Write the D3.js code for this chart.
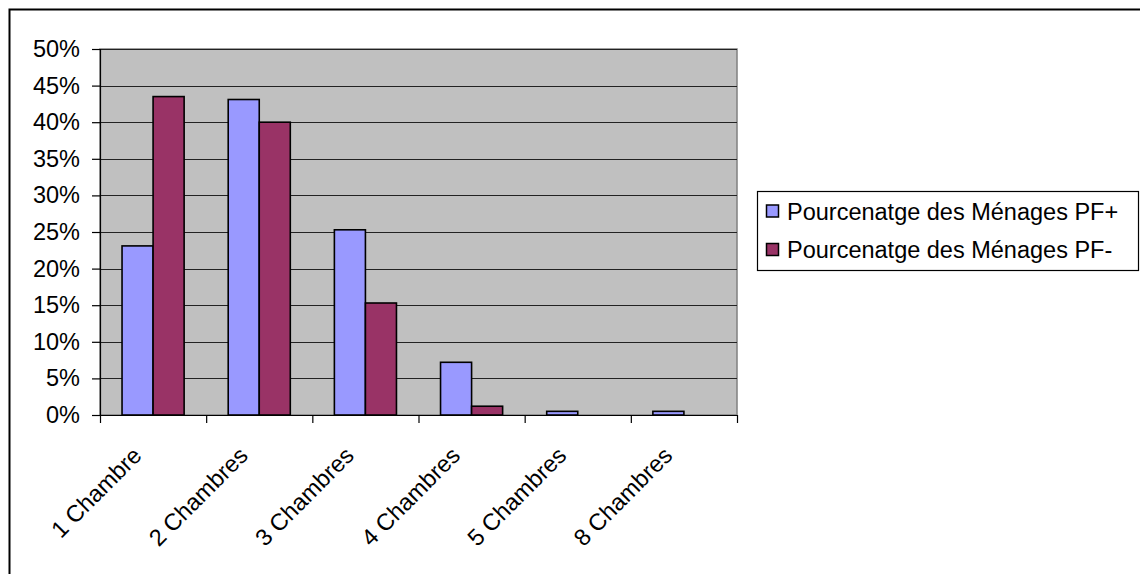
<!DOCTYPE html>
<html>
<head>
<meta charset="utf-8">
<script src="https://cdn.jsdelivr.net/npm/d3@7"></script>
<style>
  body { margin: 0; background: #fff; }
  text { font-family: "Liberation Sans", Arial, sans-serif; fill: #000; }
</style>
</head>
<body>
<div id="chart"></div>
<script>
var categories = ["1 Chambre", "2 Chambres", "3 Chambres", "4 Chambres", "5 Chambres", "8 Chambres"];
var seriesNames = ["Pourcenatge des Ménages PF+", "Pourcenatge des Ménages PF-"];
var pfPlus = [0.231, 0.431, 0.253, 0.072, 0.005, 0.005];
var pfMinus = [0.435, 0.400, 0.153, 0.012, 0, 0];
var yTicks = [0, 0.05, 0.10, 0.15, 0.20, 0.25, 0.30, 0.35, 0.40, 0.45, 0.50];
var colors = ["#9999FF", "#993366"];

var W = 1140, H = 574;
var plot = { left: 100, top: 49, right: 737, bottom: 415 };
var fontSize = 23.5;

var data = categories.map(function (c, i) {
    return { cat: c, values: [pfPlus[i], pfMinus[i]] };
});

var svg = d3.select("#chart").append("svg")
    .attr("width", W)
    .attr("height", H);

// outer frame (runs off the right and bottom edge)
svg.append("rect")
    .attr("x", 9.5).attr("y", 9.5)
    .attr("width", W + 20).attr("height", H + 20)
    .attr("fill", "none")
    .attr("stroke", "#000")
    .attr("stroke-width", 2);

var y = d3.scaleLinear()
    .domain([0, 0.5])
    .range([plot.bottom, plot.top]);

var x0 = d3.scaleBand()
    .domain(categories)
    .range([plot.left, plot.right]);

var x1 = d3.scaleBand()
    .domain(d3.range(seriesNames.length))
    .range([0, x0.bandwidth()])
    .paddingOuter(0.71);

var xTickScale = d3.scaleLinear()
    .domain([0, categories.length])
    .range([plot.left, plot.right]);

// plot background
svg.append("rect")
    .attr("x", plot.left).attr("y", plot.top)
    .attr("width", plot.right - plot.left)
    .attr("height", plot.bottom - plot.top)
    .attr("fill", "#C0C0C0")
    .attr("stroke", "#808080")
    .attr("stroke-width", 1.5);

// gridlines
svg.append("g")
    .selectAll("line")
    .data(yTicks.slice(1))
    .enter().append("line")
    .attr("x1", plot.left).attr("x2", plot.right)
    .attr("y1", function (d) { return Math.round(y(d)) + 0.5; })
    .attr("y2", function (d) { return Math.round(y(d)) + 0.5; })
    .attr("stroke", "#222")
    .attr("stroke-width", 1.2);

// bars (zero values are not drawn)
var groups = svg.append("g")
    .selectAll("g")
    .data(data)
    .enter().append("g")
    .attr("transform", function (d) { return "translate(" + x0(d.cat) + ",0)"; });

groups.selectAll("rect")
    .data(function (d) {
        return d.values.map(function (v, i) { return { v: v, i: i }; })
            .filter(function (e) { return e.v > 0; });
    })
    .enter().append("rect")
    .attr("x", function (d) { return x1(d.i); })
    .attr("width", x1.bandwidth())
    .attr("y", function (d) { return y(d.v); })
    .attr("height", function (d) { return y(0) - y(d.v); })
    .attr("fill", function (d) { return colors[d.i]; })
    .attr("stroke", "#000")
    .attr("stroke-width", 1.6);

// y axis
var yAxis = d3.axisLeft(y)
    .tickValues(yTicks)
    .tickFormat(d3.format(".0%"))
    .tickSize(8)
    .tickPadding(12);

var gy = svg.append("g")
    .attr("transform", "translate(" + plot.left + ",0)")
    .call(yAxis);
gy.select(".domain").attr("stroke", "#000").attr("stroke-width", 1.2);
gy.selectAll(".tick line").attr("stroke", "#000").attr("stroke-width", 1.2);
gy.selectAll("text")
    .style("font-size", fontSize + "px")
    .style("font-family", "'Liberation Sans', Arial, sans-serif")
    .attr("fill", "#000");

// x axis ticks at band boundaries
var xAxis = d3.axisBottom(xTickScale)
    .ticks(categories.length)
    .tickFormat("")
    .tickSize(8)
    .tickSizeOuter(0);

var gx = svg.append("g")
    .attr("transform", "translate(0," + plot.bottom + ")")
    .call(xAxis);
gx.select(".domain").attr("stroke", "#000").attr("stroke-width", 1.2);
gx.selectAll(".tick line").attr("stroke", "#000").attr("stroke-width", 1.2);

// rotated category labels
svg.append("g")
    .selectAll("text")
    .data(categories)
    .enter().append("text")
    .attr("transform", function (d) {
        return "translate(" + (x0(d) + x0.bandwidth() / 2 - 10) + "," + (plot.bottom + 42) + ") rotate(-45)";
    })
    .attr("text-anchor", "end")
    .style("font-size", fontSize + "px")
    .text(function (d) { return d; });

// legend
var legend = svg.append("g");
legend.append("rect")
    .attr("x", 757.5).attr("y", 191.5)
    .attr("width", 381).attr("height", 79)
    .attr("fill", "#fff")
    .attr("stroke", "#000")
    .attr("stroke-width", 1.2);

var items = legend.selectAll("g.item")
    .data(seriesNames)
    .enter().append("g")
    .attr("class", "item")
    .attr("transform", function (d, i) { return "translate(766," + (211 + i * 38.5) + ")"; });

items.append("rect")
    .attr("x", 0.5).attr("y", -6)
    .attr("width", 12).attr("height", 12)
    .attr("fill", function (d, i) { return colors[i]; })
    .attr("stroke", "#000")
    .attr("stroke-width", 1.5);

items.append("text")
    .attr("x", 21)
    .attr("y", 8.5)
    .style("font-size", fontSize + "px")
    .text(function (d) { return d; });
</script>
</body>
</html>
